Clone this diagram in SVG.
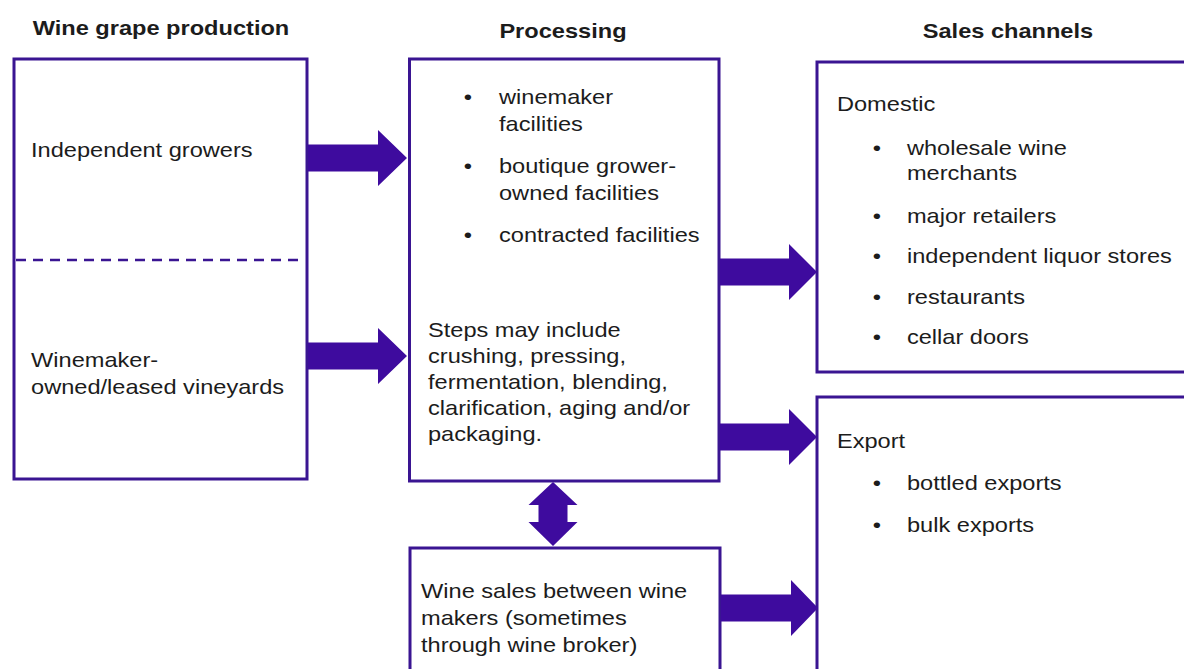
<svg xmlns="http://www.w3.org/2000/svg" width="1184" height="669" viewBox="0 0 1184 669">
<style>
  .box { fill: #ffffff; stroke: #3a1592; stroke-width: 3; }
  .div { stroke: #3a1592; stroke-width: 2.5; stroke-dasharray: 10 7; fill: none; }
  .arrow { fill: #3e0b9e; stroke: none; }
  text { font-family: "Liberation Sans", Arial, sans-serif; font-size: 20px; fill: #1c1c1c; }
  .title { font-weight: bold; text-anchor: middle; }
  .bul { text-anchor: middle; }
</style>
<rect width="1184" height="669" fill="#ffffff"/>

<g id="titles" transform="scale(1.18 1)">
  <text class="title" x="136.4" y="35">Wine grape production</text>
  <text class="title" x="477.1" y="38">Processing</text>
  <text class="title" x="854.2" y="38">Sales channels</text>
</g>

<g id="node-production">
  <rect class="box" x="14" y="59" width="293" height="420"/>
  <line class="div" x1="16" y1="260" x2="302" y2="260"/>
  <g transform="scale(1.18 1)">
    <text x="26.3" y="157">Independent growers</text>
    <text x="26.3" y="367">Winemaker-</text>
    <text x="26.3" y="394">owned/leased vineyards</text>
  </g>
</g>

<g id="node-processing">
  <rect class="box" x="409.5" y="59" width="309.5" height="422"/>
  <g transform="scale(1.18 1)">
    <text class="bul" x="396.6" y="104">•</text>
    <text x="422.9" y="104">winemaker</text>
    <text x="422.9" y="131">facilities</text>
    <text class="bul" x="396.6" y="173">•</text>
    <text x="422.9" y="173">boutique grower-</text>
    <text x="422.9" y="200">owned facilities</text>
    <text class="bul" x="396.6" y="242">•</text>
    <text x="422.9" y="242">contracted facilities</text>
    <text x="362.7" y="337">Steps may include</text>
    <text x="362.7" y="363">crushing, pressing,</text>
    <text x="362.7" y="389">fermentation, blending,</text>
    <text x="362.7" y="415">clarification, aging and/or</text>
    <text x="362.7" y="441">packaging.</text>
  </g>
</g>

<g id="node-winesales">
  <rect class="box" x="410" y="548" width="310" height="140"/>
  <g transform="scale(1.18 1)">
    <text x="356.8" y="598">Wine sales between wine</text>
    <text x="356.8" y="625">makers (sometimes</text>
    <text x="356.8" y="652">through wine broker)</text>
  </g>
</g>

<g id="node-domestic">
  <rect class="box" x="817" y="62" width="400" height="310"/>
  <g transform="scale(1.18 1)">
    <text x="709.3" y="111">Domestic</text>
    <text class="bul" x="743.2" y="155">•</text>
    <text x="768.6" y="155">wholesale wine</text>
    <text x="768.6" y="180">merchants</text>
    <text class="bul" x="743.2" y="223">•</text>
    <text x="768.6" y="223">major retailers</text>
    <text class="bul" x="743.2" y="263">•</text>
    <text x="768.6" y="263">independent liquor stores</text>
    <text class="bul" x="743.2" y="304">•</text>
    <text x="768.6" y="304">restaurants</text>
    <text class="bul" x="743.2" y="344">•</text>
    <text x="768.6" y="344">cellar doors</text>
  </g>
</g>

<g id="node-export">
  <rect class="box" x="817" y="397" width="400" height="300"/>
  <g transform="scale(1.18 1)">
    <text x="709.3" y="448">Export</text>
    <text class="bul" x="743.2" y="490">•</text>
    <text x="768.6" y="490">bottled exports</text>
    <text class="bul" x="743.2" y="532">•</text>
    <text x="768.6" y="532">bulk exports</text>
  </g>
</g>

<g id="connectors">
  <polygon class="arrow" points="308,144.5 378,144.5 378,130 407,158 378,186 378,171.5 308,171.5"/>
  <polygon class="arrow" points="308,342.5 378,342.5 378,328 407,356 378,384 378,369.5 308,369.5"/>
  <polygon class="arrow" points="720,258.5 789,258.5 789,244 817,272 789,300 789,285.5 720,285.5"/>
  <polygon class="arrow" points="720,423.5 789,423.5 789,409 817,437 789,465 789,450.5 720,450.5"/>
  <polygon class="arrow" points="721,594.5 791,594.5 791,580 818,608 791,636 791,621.5 721,621.5"/>
  <polygon class="arrow" points="553,482 577.5,505 567.5,505 567.5,522 577.5,522 553,546 528.5,522 538.5,522 538.5,505 528.5,505"/>
</g>
</svg>
